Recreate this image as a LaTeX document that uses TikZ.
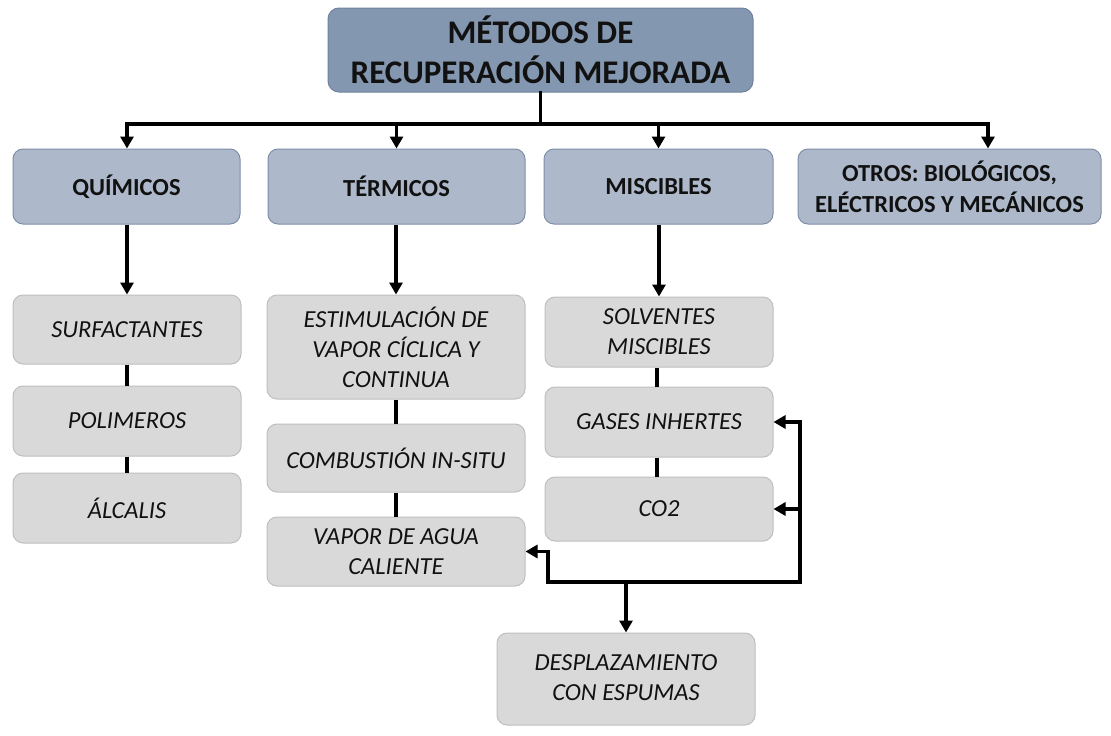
\documentclass[tikz,border=0pt]{standalone}
\usepackage{fontspec}
\setmainfont{Carlito}
\usetikzlibrary{arrows.meta,calc}
\definecolor{titlefill}{HTML}{8497B0}
\definecolor{titledraw}{HTML}{6F819C}
\definecolor{catfill}{HTML}{ADB9CA}
\definecolor{catdraw}{HTML}{7E8FA8}
\definecolor{subfill}{HTML}{D9D9D9}
\definecolor{subdraw}{HTML}{BFBFBF}
\definecolor{txt}{HTML}{111111}
\tikzset{
  titlebox/.style={draw=titledraw, fill=titlefill, line width=1pt, rounded corners=11pt, inner sep=0pt, align=center, text=txt, font=\fontsize{33}{40}\selectfont\bfseries},
  catbox/.style={draw=catdraw, fill=catfill, line width=1pt, rounded corners=10pt, inner sep=0pt, align=center, text=txt, font=\fontsize{24.5}{31}\selectfont\bfseries},
  subbox/.style={draw=subdraw, fill=subfill, line width=1pt, rounded corners=10pt, inner sep=0pt, align=center, text=txt, font=\fontsize{24.5}{30}\selectfont\itshape},
  conn/.style={line width=3.6pt, black},
  bus/.style={line width=3.6pt, black, line cap=rect},
  arr/.style={line width=3.6pt, black, -{Triangle[width=13pt,length=12pt]}},
}
\begin{document}
\begin{tikzpicture}[x=1pt,y=-1pt]
\useasboundingbox (0,0) rectangle (1111,736);
% title
\node[titlebox, minimum width=425pt, minimum height=84pt] (title) at (540.5,50) {MÉTODOS DE\\RECUPERACIÓN MEJORADA};
% categories
\node[catbox, minimum width=227pt, minimum height=75pt] (q) at (126.5,186.5) {QUÍMICOS};
\node[catbox, minimum width=257pt, minimum height=75pt] (t) at (396.5,186.5) {TÉRMICOS};
\node[catbox, minimum width=229pt, minimum height=75pt] (m) at (658.5,186.5) {MISCIBLES};
\node[catbox, minimum width=303pt, minimum height=75pt] (o) at (949.5,186.5) {OTROS: BIOLÓGICOS,\\ELÉCTRICOS Y MECÁNICOS};
% column 1
\node[subbox, minimum width=228pt, minimum height=69pt] (s1) at (127,329.5) {SURFACTANTES};
\node[subbox, minimum width=228pt, minimum height=70pt] (s2) at (127,421) {POLIMEROS};
\node[subbox, minimum width=228pt, minimum height=70pt] (s3) at (127,508) {ÁLCALIS};
% column 2
\node[subbox, minimum width=258pt, minimum height=104pt] (t1) at (396,347) {ESTIMULACIÓN DE\\VAPOR CÍCLICA Y\\CONTINUA};
\node[subbox, minimum width=258pt, minimum height=68pt] (t2) at (396,458) {COMBUSTIÓN IN-SITU};
\node[subbox, minimum width=258pt, minimum height=69pt] (t3) at (396,551.5) {VAPOR DE AGUA\\CALIENTE};
% column 3
\node[subbox, minimum width=228pt, minimum height=70pt] (m1) at (659,332) {SOLVENTES\\MISCIBLES};
\node[subbox, minimum width=228pt, minimum height=70pt] (m2) at (659,422) {GASES INHERTES};
\node[subbox, minimum width=228pt, minimum height=64pt] (m3) at (659,509) {CO2};
% bottom
\node[subbox, minimum width=258pt, minimum height=92pt] (d) at (626,679) {\raisebox{-6pt}{\begin{tabular}{@{}c@{}}DESPLAZAMIENTO\\CON ESPUMAS\end{tabular}}};
% bus
\coordinate (busL) at (127,124);
\coordinate (busR) at (988,124);
\draw[bus] (title.south) -- (title.south |- busL);
\draw[bus] (busL) -- (busR);
\draw[arr] (busL) -- (busL |- q.north);
\draw[arr] (t.north |- busL) -- (t.north);
\draw[arr] (m.north |- busL) -- (m.north);
\draw[arr] (busR) -- (busR |- o.north);
% category to first items
\draw[arr] (s1.north |- q.south) -- (s1.north);
\draw[arr] (t1.north |- t.south) -- (t1.north);
\draw[arr] (m1.north |- m.south) -- (m1.north);
% chains
\draw[conn] (s1.south) -- (s2.north);
\draw[conn] (s2.south) -- (s3.north);
\draw[conn] (t1.south) -- (t2.north);
\draw[conn] (t2.south) -- (t3.north);
\draw[conn] ([xshift=-2pt]m1.south) -- ([xshift=-2pt]m2.north);
\draw[conn] ([xshift=-2pt]m2.south) -- ([xshift=-2pt]m3.north);
% bracket
\coordinate (jl) at (548,582);
\coordinate (jr) at (800,582);
\coordinate (j) at (d.north |- jl);
\draw[bus] (jl) -- (jr);
\draw[arr] (jl) |- (t3.east);
\draw[arr] (jr) |- (m2.east);
\draw[arr] (jr |- m3.east) -- (m3.east);
\draw[arr] (j) -- (d.north);
\end{tikzpicture}
\end{document}
